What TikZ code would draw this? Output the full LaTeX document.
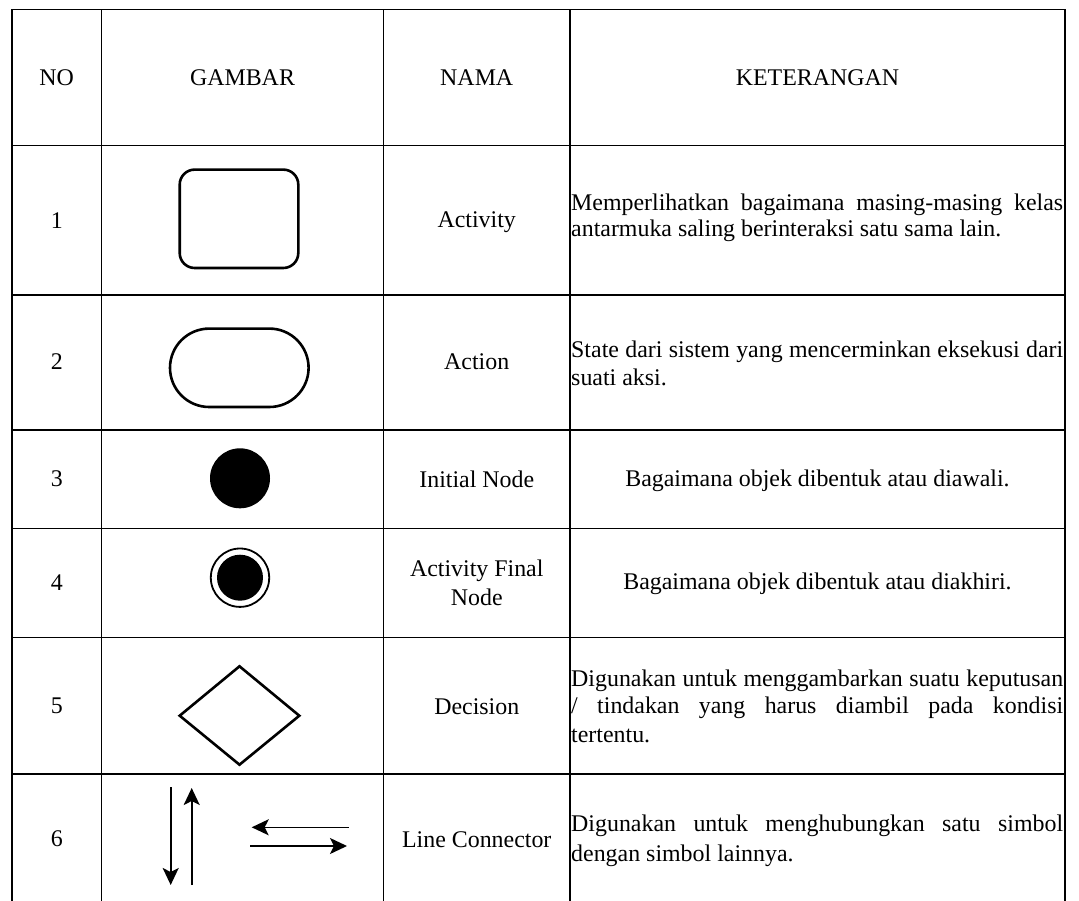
\documentclass[tikz,border=0pt]{standalone}
\usepackage{fontspec}
\setmainfont{Liberation Serif}
\usetikzlibrary{arrows.meta}
\begin{document}
\begin{tikzpicture}[x=1pt,y=-1pt,
  gridline/.style={line width=1.5pt, line join=miter},
  txt/.style={inner sep=0pt, font=\fontsize{23.9}{27}\selectfont},
  shapeline/.style={draw, line width=2.6pt, inner sep=0pt},
  arr/.style={line width=1.6pt, -{Stealth[length=17pt,width=16pt,inset=4pt]}}]
\useasboundingbox (0,0) rectangle (1079,901);
% ---- grid ----
\draw[gridline] (12,901) -- (12,9.3) -- (1065,9.3) -- (1065,901);
\foreach \xx in {101.5,383.5,570} \draw[gridline] (\xx,9.3) -- (\xx,901);
\foreach \yy in {145.7,295,430,528.3,637.3,774} \draw[gridline] (12,\yy) -- (1065,\yy);
% ---- header ----
\node[txt, anchor=base] (hno) at (56.75,85.7) {NO};
\node[txt, anchor=base] (hgb) at (242.5,85.7) {GAMBAR};
\node[txt, anchor=base] (hnm) at (476.75,85.7) {NAMA};
\node[txt, anchor=base] (hkt) at (817.5,85.7) {KETERANGAN};
% ---- numbers ----
\node[txt, anchor=base] (n1) at (56.75,228.3) {1};
\node[txt, anchor=base] (n2) at (56.75,370) {2};
\node[txt, anchor=base] (n3) at (56.75,486.7) {3};
\node[txt, anchor=base] (n4) at (56.75,590) {4};
\node[txt, anchor=base] (n5) at (56.75,713.3) {5};
\node[txt, anchor=base] (n6) at (56.75,846.7) {6};
% ---- names ----
\node[txt, anchor=base] (m1) at (476.75,227.7) {Activity};
\node[txt, anchor=base] (m2) at (476.75,370) {Action};
\node[txt, anchor=base] (m3) at (476.75,487.3) {Initial Node};
\node[txt, anchor=base] (m4a) at (476.75,576.7) {Activity Final};
\node[txt, anchor=base] (m4b) at (476.75,605) {Node};
\node[txt, anchor=base] (m5) at (476.75,714) {Decision};
\node[txt, anchor=base] (m6) at (476.75,847.3) {Line Connector};
% ---- descriptions ----
\node[txt, anchor=base west] (k1a) at (571,210.7) {\makebox[492pt][s]{Memperlihatkan bagaimana masing-masing kelas}};
\node[txt, anchor=base west] (k1b) at (571,236.7) {antarmuka saling berinteraksi satu sama lain.};
\node[txt, anchor=base west] (k2a) at (571,357.3) {\makebox[492pt][s]{State dari sistem yang mencerminkan eksekusi dari}};
\node[txt, anchor=base west] (k2b) at (571,385) {suati aksi.};
\node[txt, anchor=base] (k3) at (817.5,486.7) {Bagaimana objek dibentuk atau diawali.};
\node[txt, anchor=base] (k4) at (817.5,589.3) {Bagaimana objek dibentuk atau diakhiri.};
\node[txt, anchor=base west] (k5a) at (571,686.5) {\makebox[492pt][s]{Digunakan untuk menggambarkan suatu keputusan}};
\node[txt, anchor=base west] (k5b) at (571,713.3) {\makebox[492pt][s]{/ tindakan yang harus diambil pada kondisi}};
\node[txt, anchor=base west] (k5c) at (571,742) {tertentu.};
\node[txt, anchor=base west] (k6a) at (571,831.7) {\makebox[492pt][s]{Digunakan untuk menghubungkan satu simbol}};
\node[txt, anchor=base west] (k6b) at (571,861.7) {dengan simbol lainnya.};
% ---- symbols ----
\node[shapeline, rounded corners=15pt, minimum width=118.6pt, minimum height=98.4pt] (s1) at (239,218.8) {};
\node[shapeline, rounded corners=39.2pt, minimum width=138.6pt, minimum height=78.4pt] (s2) at (239.3,367.8) {};
\node[circle, fill=black, inner sep=0pt, minimum size=60pt] (s3) at (240,478.3) {};
\node[circle, draw, line width=1.8pt, inner sep=0pt, minimum size=58.4pt] (s4o) at (240,577.7) {};
\node[circle, fill=black, inner sep=0pt, minimum size=46pt] (s4i) at (240,577.7) {};
\draw[line width=2.6pt, line join=miter] (179.7,715.7) -- (239.5,666.3) -- (299.3,715.7) -- (239.5,764.7) -- cycle;
\draw[arr] (170.7,787) -- (170.7,885);
\draw[arr] (191.7,885) -- (191.7,788);
\draw[arr] (348.5,827.3) -- (251.7,827.3);
\draw[arr] (250,846) -- (347,846);
\end{tikzpicture}
\end{document}
